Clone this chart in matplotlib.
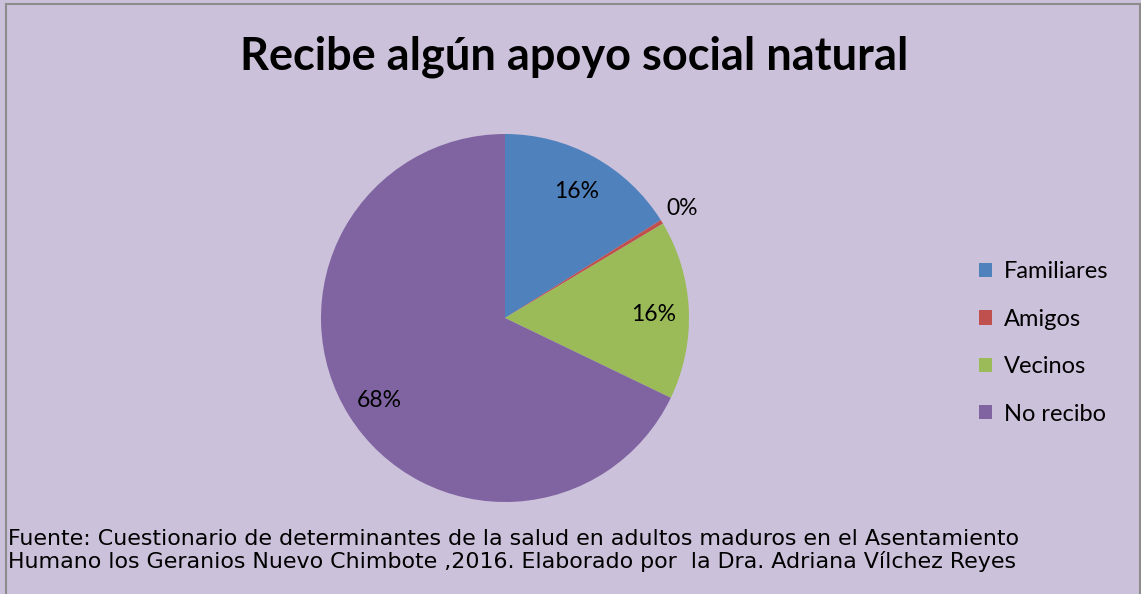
import matplotlib.pyplot as plt
import numpy as np

# datos
categorias = ["Familiares", "Amigos", "Vecinos", "No recibo"]
valores = [45, 1, 44, 190]
colores = ["#4F81BD", "#C0504D", "#9BBB59", "#8064A2"]
titulo = "Recibe algún apoyo social natural"
fuente = ["Fuente: Cuestionario de determinantes de la salud en adultos maduros en el Asentamiento",
          "Humano los Geranios Nuevo Chimbote ,2016. Elaborado por  la Dra. Adriana Vílchez Reyes"]

W, H = 1141, 594
fondo = "#CCC1DA"

plt.rcParams["font.family"] = ["Lato", "DejaVu Sans"]

fig = plt.figure(figsize=(W / 100, H / 100), dpi=100)
fig.patch.set_facecolor(fondo)

# borde gris del área del gráfico (sin borde inferior)
gris = "#8C8C8C"
fig.add_artist(plt.Line2D([6 / W, 6 / W], [0, 1 - 4 / H], color=gris, lw=1.5))
fig.add_artist(plt.Line2D([6 / W, 1139.5 / W], [1 - 4 / H, 1 - 4 / H], color=gris, lw=1.5))
fig.add_artist(plt.Line2D([1139.5 / W, 1139.5 / W], [0, 1 - 4 / H], color=gris, lw=1.5))

cx, cy, r = 505, 318, 184
ax = fig.add_axes([(cx - r) / W, (H - cy - r) / H, 2 * r / W, 2 * r / H])
ax.set_facecolor(fondo)

wedges, textos, pcts = ax.pie(
    valores, colors=colores, startangle=90, counterclock=False,
    autopct=lambda p: f"{p:.0f}%", pctdistance=0.81,
    textprops={"fontsize": 16.5, "color": "black"},
    wedgeprops={"linewidth": 0},
)
ax.set_xlim(-1, 1)
ax.set_ylim(-1, 1)
ax.axis("off")

# la etiqueta del 0% va fuera de la torta
w = wedges[1]
ang = np.deg2rad((w.theta1 + w.theta2) / 2 + 1)
pcts[1].set_position((1.14 * np.cos(ang), 1.14 * np.sin(ang)))
for t in pcts:
    t.set_position((t.get_position()[0], t.get_position()[1] - 0.02))

fig.text(574 / W, 1 - 57 / H, titulo, ha="center", va="center",
         fontsize=32.5, fontweight="bold")

fig.legend(wedges, categorias, loc="center left",
           bbox_to_anchor=(958 / W, 1 - 343 / H), frameon=False,
           fontsize=17, handlelength=0.55, handleheight=0.55,
           handletextpad=0.5, labelspacing=1.12)

# fuente: tamaño ajustado al ancho aproximado del original
renderer = fig.canvas.get_renderer()
for i, linea in enumerate(fuente):
    t = fig.text(8 / W, 1 - (545 + 23 * i) / H, linea, ha="left", va="baseline",
                 fontsize=14, family=["DejaVu Sans"])
    ancho = t.get_window_extent(renderer).width
    t.set_fontsize(14 * 1010 / ancho)

fig.savefig("out.png", dpi=100, facecolor=fondo)
